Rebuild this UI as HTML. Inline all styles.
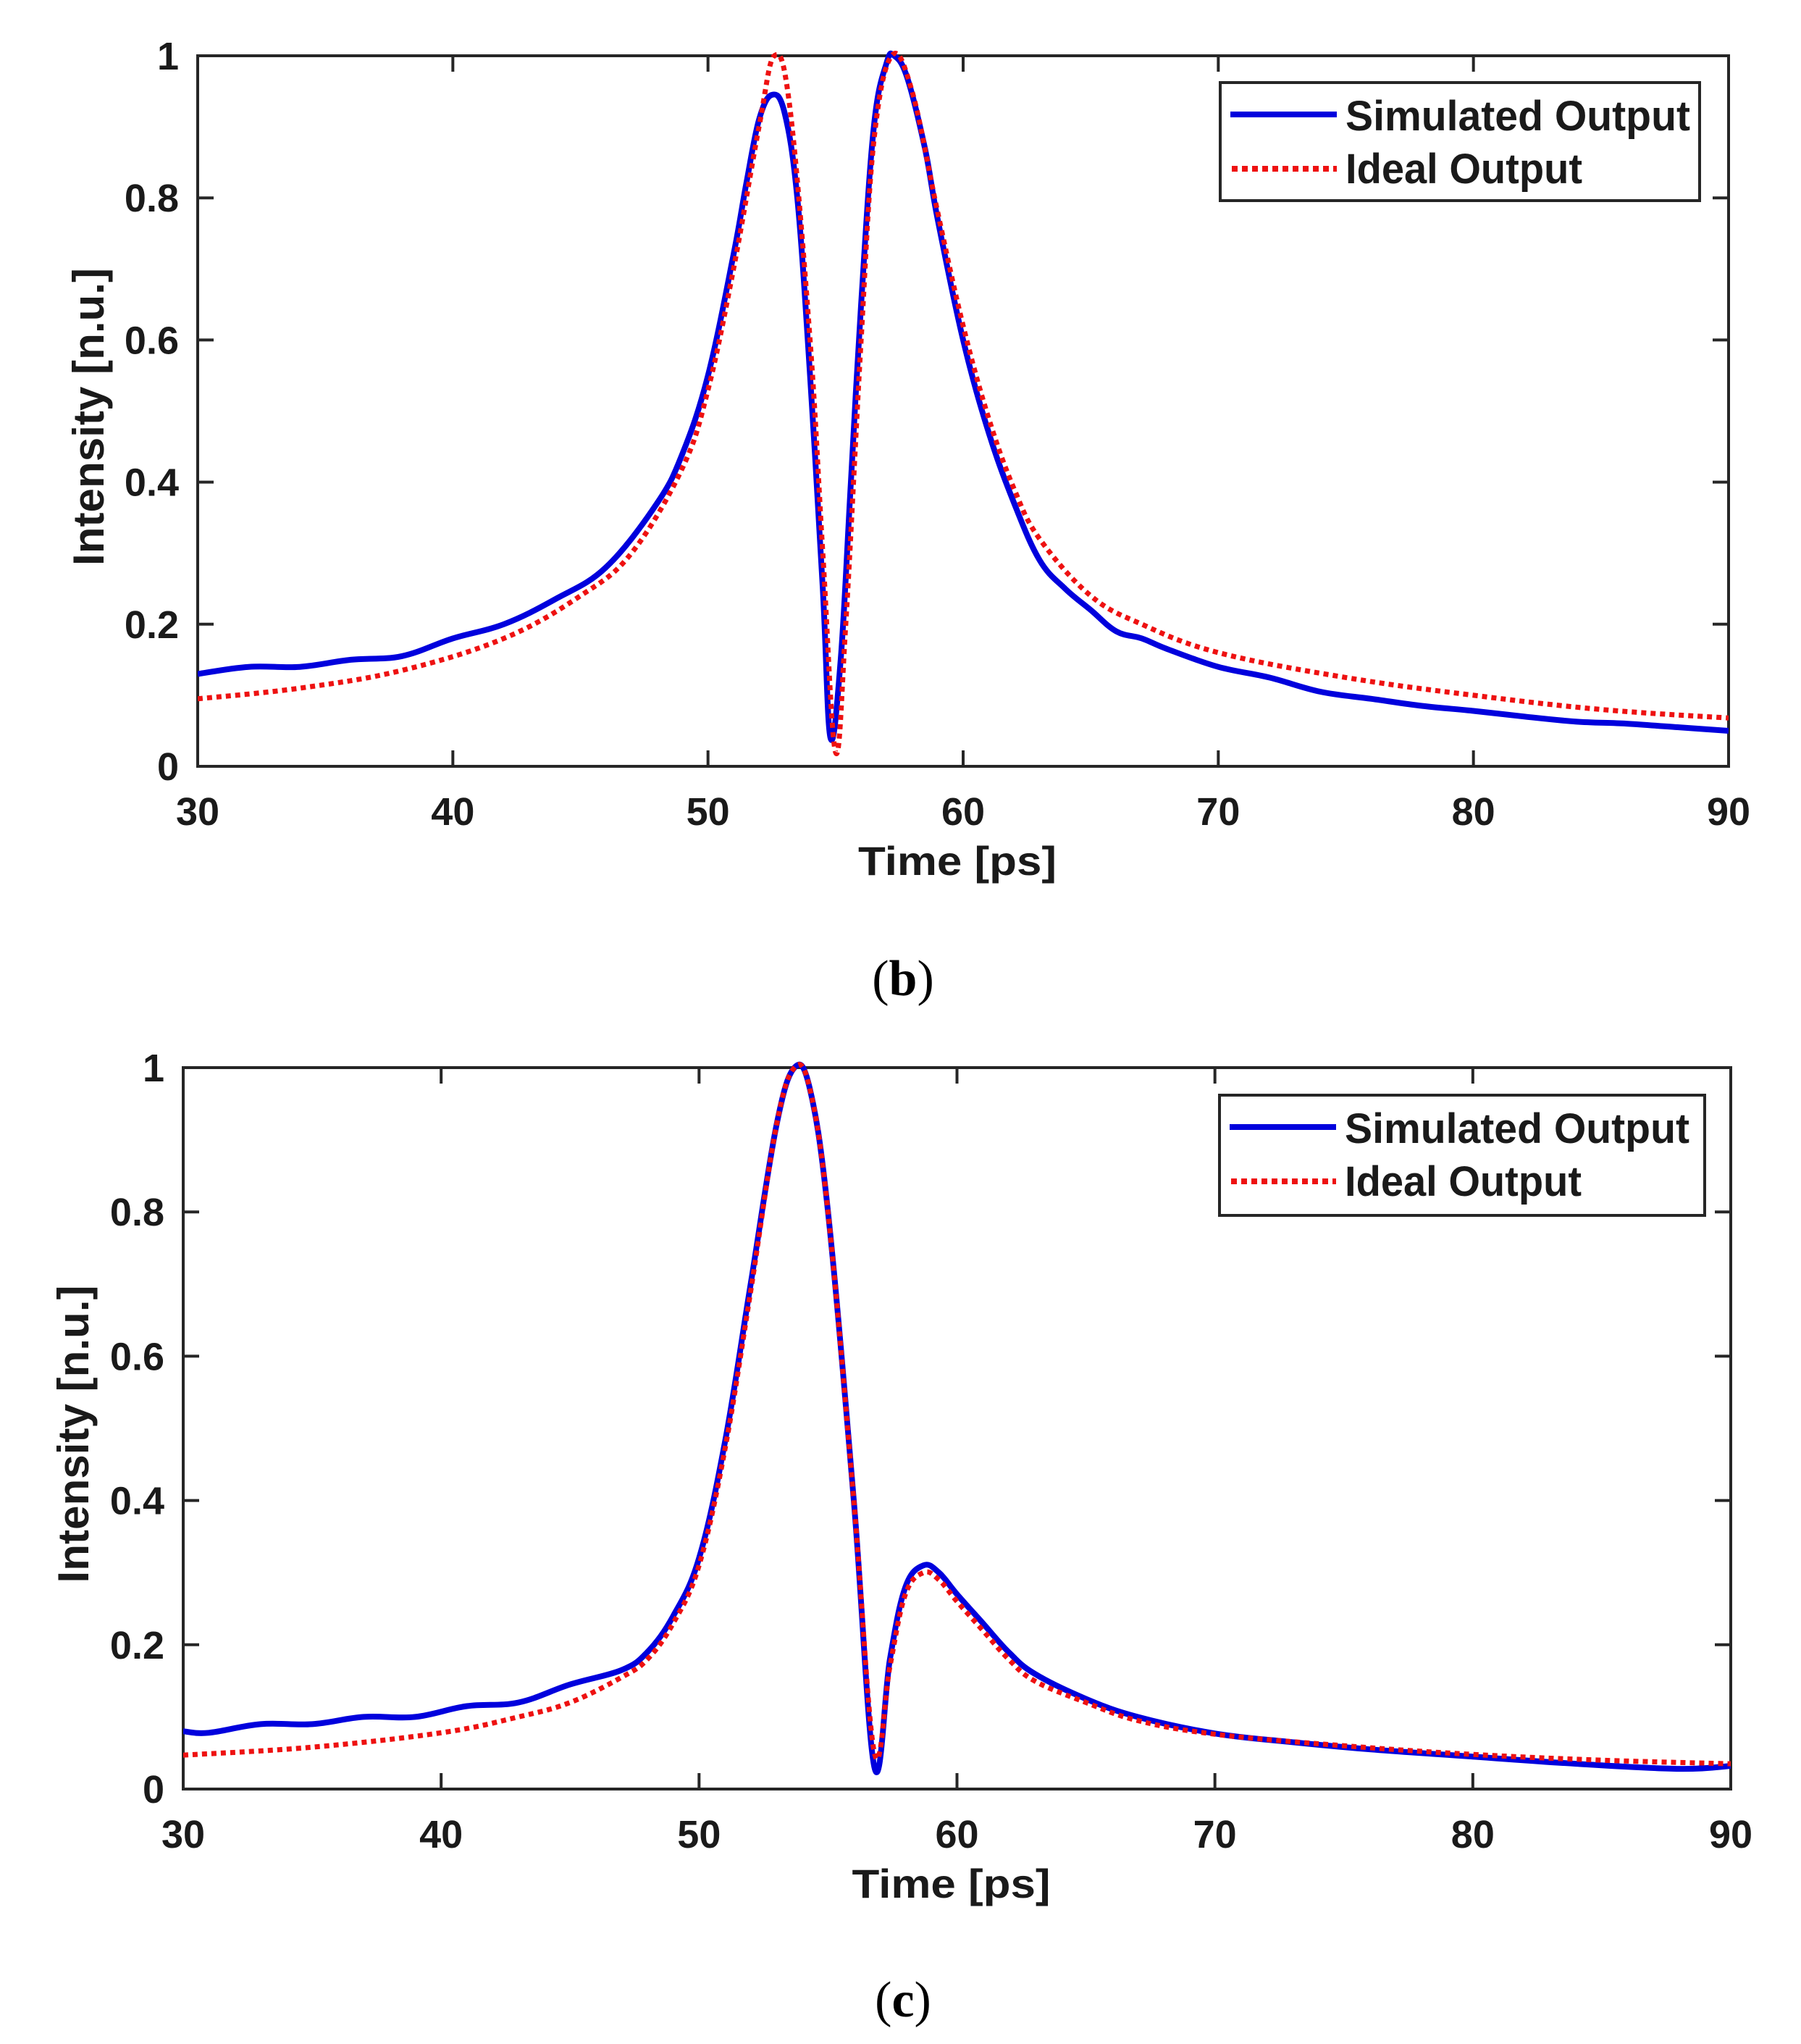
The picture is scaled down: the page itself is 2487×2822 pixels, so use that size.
<!DOCTYPE html>
<html><head><meta charset="utf-8"><style>
html,body{margin:0;padding:0;background:#fff;}
svg{display:block;}
text{font-family:"Liberation Sans",Arial,sans-serif;font-weight:bold;fill:#1a1a1a;}
</style></head><body>
<svg id="fig" width="2487" height="2822" viewBox="0 0 2487 2822" xmlns="http://www.w3.org/2000/svg">
<rect width="2487" height="2822" fill="#fff"/>
<text x="1247" y="1374" text-anchor="middle" style="font-family:'Liberation Serif',serif;font-weight:normal;font-size:70px;fill:#000">(<tspan font-weight="bold">b</tspan>)</text>
<text x="1247" y="2784" text-anchor="middle" style="font-family:'Liberation Serif',serif;font-weight:normal;font-size:70px;fill:#000">(<tspan font-weight="bold">c</tspan>)</text>
</svg>
<script>
// ---- Panel (b) data ----
const bSimX = [30,32,34,36,38,40,42,44,46,48,49,50,51,51.5,52,52.5,53,53.5,54,54.5,54.8,55.2,55.6,56,56.5,57,57.3,57.8,58.5,59,60,61,62,63,64,65,66,67,68,70,72,74,76,78,80,82,84,86,88,90];
const bSimY = [.13,.14,.14,.15,.155,.18,.20,.235,.28,.37,.44,.55,.72,.82,.91,.945,.92,.80,.55,.25,.04,.15,.40,.65,.90,.99,1.0,.97,.87,.77,.60,.47,.37,.29,.25,.22,.19,.18,.165,.14,.125,.105,.095,.085,.078,.07,.063,.06,.055,.05];
const bIdealX = [30,34,38,42,45,47,49,50,51,52,52.6,53.2,54,54.5,55,55.4,56,56.5,57.2,58,59,60,61,62,63,65,67,70,75,80,85,90];
const bIdealY = [.095,.11,.135,.18,.24,.30,.42,.53,.70,.90,1.0,.93,.60,.30,.02,.20,.60,.88,1.0,.95,.78,.62,.49,.39,.32,.24,.20,.16,.125,.10,.08,.068];
// ---- Panel (c) data ----
const cSimX = [30,31,33,35,37,39,41,43,45,47,48,49,50,51,52,53,53.7,54.3,55,56,56.8,57.4,58,58.7,59.3,60,61,62,63,65,67,70,73,76,80,84,88,90];
const cSimY = [.08,.078,.09,.09,.10,.10,.115,.12,.145,.165,.19,.24,.32,.48,.70,.92,1.0,.97,.80,.40,.03,.18,.28,.31,.30,.27,.23,.19,.16,.125,.10,.077,.065,.055,.045,.035,.028,.032];
const cIdealX = [30,35,40,43,45,47,48,49,50,51,52,53,53.7,54.3,55,56,56.8,57.4,58,58.7,59.3,60,61,62,63,65,67,70,75,80,85,90];
const cIdealY = [.047,.058,.078,.10,.12,.155,.18,.23,.31,.47,.69,.92,1.0,.97,.80,.40,.05,.17,.27,.30,.29,.26,.22,.18,.15,.12,.095,.076,.06,.048,.04,.035];
// ---- ticks ----
const xTicks = [30,40,50,60,70,80,90];
const xTickLabels = ["30","40","50","60","70","80","90"];
const yTicks = [0,0.2,0.4,0.6,0.8,1];
const yTickLabels = ["0","0.2","0.4","0.6","0.8","1"];
const legendLabels = ["Simulated Output","Ideal Output"];

const NS = "http://www.w3.org/2000/svg";
const svg = document.getElementById('fig');
function mk(tag, attrs, parent){ const e=document.createElementNS(NS,tag); for(const k in attrs) e.setAttribute(k,attrs[k]); (parent||svg).appendChild(e); return e; }
function smooth(pts){
  let d=`M${pts[0][0].toFixed(1)},${pts[0][1].toFixed(1)}`;
  for(let i=0;i<pts.length-1;i++){
    const p0=pts[Math.max(0,i-1)],p1=pts[i],p2=pts[i+1],p3=pts[Math.min(pts.length-1,i+2)];
    const t=0.18;
    const c1=[p1[0]+(p2[0]-p0[0])*t,p1[1]+(p2[1]-p0[1])*t];
    const c2=[p2[0]-(p3[0]-p1[0])*t,p2[1]-(p3[1]-p1[1])*t];
    d+=`C${c1[0].toFixed(1)},${c1[1].toFixed(1)} ${c2[0].toFixed(1)},${c2[1].toFixed(1)} ${p2[0].toFixed(1)},${p2[1].toFixed(1)}`;
  }
  return d;
}

function panel(id, L, R, T, B, simX, simY, idX, idY, leg, yTitleX){
  const g = mk('g',{});
  
  
  const sx = v => L + (v-30)/(90-30)*(R-L);
  const sy = v => B - v*(B-T);
  const box = mk('rect',{x:L,y:T,width:R-L,height:B-T,fill:'none',stroke:'#262626','stroke-width':4},g);
  
  
  xTicks.forEach((t,i)=>{
    const x=sx(t);
    const tk=mk('path',{d:`M${x},${B}V${B-22}M${x},${T}V${T+22}`,stroke:'#262626','stroke-width':4},g);
    
    
    const tl=mk('text',{x:x,y:B+81,'text-anchor':'middle','font-size':54},g);
    
    
    tl.textContent=xTickLabels[i];
  });
  yTicks.forEach((t,i)=>{
    const y=sy(t);
    const tk=mk('path',{d:`M${L},${y}H${L+22}M${R},${y}H${R-22}`,stroke:'#262626','stroke-width':4},g);
    
    
    const tl=mk('text',{x:L-26,y:y+19,'text-anchor':'end','font-size':54},g);
    
    
    tl.textContent=yTickLabels[i];
  });
  const xt=mk('text',{x:(L+R)/2-8,y:B+150,'text-anchor':'middle','font-size':56,textLength:274,lengthAdjust:'spacingAndGlyphs'},g);
  
  
  xt.textContent='Time [ps]';
  const cy=(T+B)/2+8;
  const yt=mk('text',{x:0,y:0,'text-anchor':'middle','font-size':60,textLength:411,lengthAdjust:'spacingAndGlyphs',transform:`translate(${yTitleX},${cy}) rotate(-90)`},g);
  
  
  yt.textContent='Intensity [n.u.]';
  const cp=mk('clipPath',{id:'clip'+id},g);
  mk('rect',{x:L,y:T-10,width:R-L,height:B-T+10},cp);
  const ps=smooth(simX.map((x,i)=>[sx(x),sy(simY[i])]));
  const sim=mk('path',{d:ps,fill:'none',stroke:'#0000dd','stroke-width':8,'stroke-linejoin':'round','clip-path':`url(#clip${id})`},g);
  
  
  const pi=smooth(idX.map((x,i)=>[sx(x),sy(idY[i])]));
  const ide=mk('path',{d:pi,fill:'none',stroke:'#ee1111','stroke-width':7,'stroke-dasharray':'7 6','clip-path':`url(#clip${id})`},g);
  
  
  const lg=mk('g',{},g);
  
  
  mk('rect',{x:leg.x,y:leg.y,width:leg.w,height:leg.h,fill:'#fff',stroke:'#262626','stroke-width':4},lg);
  const e1=mk('line',{x1:leg.x+14,x2:leg.x+161,y1:leg.y+44,y2:leg.y+44,stroke:'#0000dd','stroke-width':8},lg);
  
  
  const t1=mk('text',{x:leg.x+173,y:leg.y+66,'font-size':58,textLength:476,lengthAdjust:'spacingAndGlyphs'},lg);
  
  
  t1.textContent=legendLabels[0];
  const e2=mk('line',{x1:leg.x+16,x2:leg.x+161,y1:leg.y+119,y2:leg.y+119,stroke:'#ee1111','stroke-width':8,'stroke-dasharray':'8 6'},lg);
  
  
  const t2=mk('text',{x:leg.x+173,y:leg.y+139,'font-size':58,textLength:327,lengthAdjust:'spacingAndGlyphs'},lg);
  
  
  t2.textContent=legendLabels[1];
}
panel('b',273,2387,77,1058,bSimX,bSimY,bIdealX,bIdealY,{x:1685,y:114,w:662,h:163},143);
panel('c',253,2390,1474,2470,cSimX,cSimY,cIdealX,cIdealY,{x:1684,y:1512,w:670,h:166},122);
</script>
</body></html>
